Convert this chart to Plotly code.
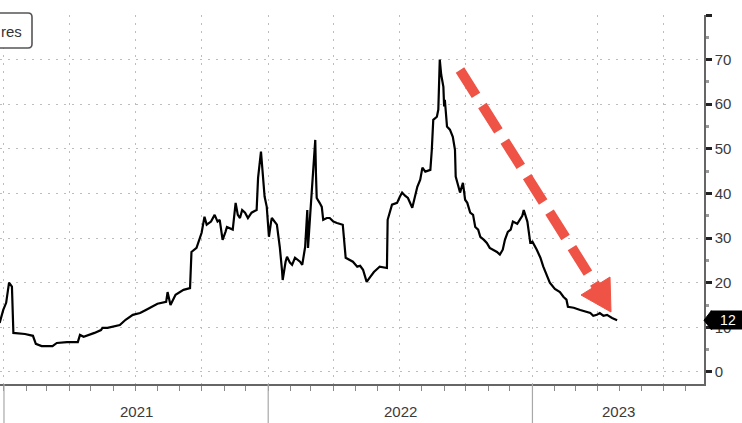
import plotly.graph_objects as go
import pandas as pd

# ---- data ----
dates = [
    "2020-12-26", "2020-12-31", "2021-01-04", "2021-01-08", "2021-01-12", "2021-01-14",
    "2021-01-30", "2021-02-10", "2021-02-14", "2021-02-22", "2021-03-09", "2021-03-15",
    "2021-03-29", "2021-04-13", "2021-04-16", "2021-04-21", "2021-05-06", "2021-05-15",
    "2021-05-17", "2021-05-24", "2021-06-10", "2021-06-18", "2021-06-28", "2021-07-08",
    "2021-07-16", "2021-07-24", "2021-08-01", "2021-08-13", "2021-08-15", "2021-08-19",
    "2021-08-26", "2021-09-06", "2021-09-15", "2021-09-17", "2021-09-24", "2021-10-01",
    "2021-10-05", "2021-10-08", "2021-10-14", "2021-10-19", "2021-10-23", "2021-10-26",
    "2021-10-30", "2021-11-03", "2021-11-05", "2021-11-13", "2021-11-17", "2021-11-20",
    "2021-11-23", "2021-11-26", "2021-11-30", "2021-12-04", "2021-12-09", "2021-12-16",
    "2021-12-18", "2021-12-22", "2021-12-25", "2021-12-26", "2021-12-27", "2021-12-30",
    "2022-01-02", "2022-01-05", "2022-01-06", "2022-01-13", "2022-01-17", "2022-01-20",
    "2022-01-21", "2022-01-25", "2022-01-27", "2022-01-31", "2022-02-03", "2022-02-07",
    "2022-02-14", "2022-02-17", "2022-02-21", "2022-02-24", "2022-02-25", "2022-02-28",
    "2022-03-03", "2022-03-04", "2022-03-07", "2022-03-08", "2022-03-09", "2022-03-13",
    "2022-03-16", "2022-03-18", "2022-03-23", "2022-03-27", "2022-04-01", "2022-04-06",
    "2022-04-14", "2022-04-18", "2022-04-24", "2022-04-28", "2022-05-04", "2022-05-08",
    "2022-05-12", "2022-05-17", "2022-05-22", "2022-05-27", "2022-06-02", "2022-06-04",
    "2022-06-14", "2022-06-15", "2022-06-21", "2022-06-28", "2022-07-02", "2022-07-05",
    "2022-07-09", "2022-07-13", "2022-07-19", "2022-07-23", "2022-07-26", "2022-07-30",
    "2022-08-02", "2022-08-06", "2022-08-13", "2022-08-15", "2022-08-17", "2022-08-22",
    "2022-08-24", "2022-08-26", "2022-08-28", "2022-08-31", "2022-09-01", "2022-09-02",
    "2022-09-05", "2022-09-09", "2022-09-13", "2022-09-16", "2022-09-17", "2022-09-20",
    "2022-09-23", "2022-09-27", "2022-09-30", "2022-10-03", "2022-10-07", "2022-10-11",
    "2022-10-14", "2022-10-18", "2022-10-21", "2022-10-26", "2022-10-30", "2022-11-03",
    "2022-11-08", "2022-11-13", "2022-11-17", "2022-11-21", "2022-11-24", "2022-11-28",
    "2022-12-02", "2022-12-05", "2022-12-11", "2022-12-15", "2022-12-18", "2022-12-20",
    "2022-12-25", "2022-12-29", "2023-01-01", "2023-01-07", "2023-01-12", "2023-01-16",
    "2023-01-20", "2023-01-25", "2023-02-01", "2023-02-08", "2023-02-13", "2023-02-17",
    "2023-02-19", "2023-02-27", "2023-03-08", "2023-03-15", "2023-03-22", "2023-03-26",
    "2023-03-31", "2023-04-04", "2023-04-09", "2023-04-14", "2023-04-21", "2023-04-28",
]
values = [
    11.0, 13.9, 15.5, 20.0, 19.1, 8.75,
    8.5, 8.1, 6.3, 5.8, 5.8, 6.5,
    6.7, 6.7, 8.3, 7.9, 8.75, 9.4,
    9.9, 9.9, 10.5, 11.7, 12.8, 13.2,
    13.9, 14.6, 15.3, 15.7, 17.9, 15.0,
    17.3, 18.4, 18.8, 26.9, 27.8, 31.2,
    34.8, 33.0, 33.7, 35.2, 33.7, 34.1,
    29.6, 31.4, 32.5, 31.9, 37.9, 35.2,
    34.5, 36.3, 35.7, 34.5, 35.7, 36.3,
    43.5, 49.4, 43.8, 40.8, 39.3, 37.0,
    30.3, 33.7, 34.5, 33.0, 28.0, 22.9,
    20.6, 24.7, 25.8, 24.5, 24.0, 25.6,
    24.7, 24.0, 28.0, 36.3, 27.8, 35.2,
    43.5, 44.9, 52.0, 44.2, 39.0, 37.9,
    37.0, 34.1, 34.5, 34.5, 33.7, 33.4,
    33.0, 25.6, 25.1, 24.7, 23.6, 23.8,
    22.9, 20.2, 21.3, 22.4, 23.3, 23.6,
    23.3, 34.1, 37.5, 37.9, 39.3, 40.2,
    39.5, 39.0, 36.8, 39.7, 41.5, 43.1,
    45.8, 44.9, 45.3, 49.8, 56.5, 57.2,
    58.8, 70.0, 66.6, 63.9, 59.5, 61.0,
    55.0, 54.3, 52.7, 49.8, 43.8, 42.0,
    40.2, 42.4, 38.6, 37.9, 35.7, 35.2,
    32.5, 31.9, 30.3, 29.6, 28.9, 27.8,
    27.4, 26.9, 26.3, 27.4, 29.6, 31.4,
    31.9, 33.7, 33.2, 34.1, 35.0, 36.3,
    33.7, 29.0, 29.2, 27.4, 25.6, 23.6,
    21.8, 20.0, 18.6, 17.9, 16.8, 16.2,
    14.6, 14.4, 13.9, 13.5, 13.2, 12.6,
    12.8, 13.2, 12.6, 12.8, 12.1, 11.6,
]
y_ticks = [0, 10, 20, 30, 40, 50, 60, 70, 80]
y_labels = ["0", "10", "20", "30", "40", "50", "60", "70", ""]
years = ["2021", "2022", "2023"]
year_starts = ["2021-01-01", "2022-01-01", "2023-01-01"]
legend_text = "res"
last_label = "12"

# ---- layout geometry ----
W, H = 742, 423
ML, MR, MT, MB = 0, 38, 15, 39
PW, PH = W - ML - MR, H - MT - MB
x_range = [pd.Timestamp("2020-12-26 12:00"), pd.Timestamp("2023-08-26")]
y_range = [-2.7, 80]
FONT = "Liberation Sans"


def xp(px):
    return (px - ML) / PW


def yp(py):
    return (H - MB - py) / PH


def date_to_paper(d):
    t = pd.Timestamp(d)
    return (t - x_range[0]) / (x_range[1] - x_range[0])


def val_to_paper(v):
    return (v - y_range[0]) / (y_range[1] - y_range[0])


fig = go.Figure()
fig.add_trace(go.Scatter(
    x=pd.to_datetime(dates), y=values, mode="lines",
    line=dict(color="#000000", width=2.2), showlegend=False, hoverinfo="skip",
))

shapes = []
annotations = []

# year separators below the axis and year labels
for i, ys in enumerate(year_starts):
    p = date_to_paper(ys)
    shapes.append(dict(type="line", xref="paper", yref="paper", x0=p, x1=p,
                       y0=0, y1=yp(H), line=dict(color="#a8a8a8", width=1.2)))
for i, yr in enumerate(years):
    a = max(date_to_paper(year_starts[i]), 0)
    b = date_to_paper(year_starts[i + 1]) if i + 1 < len(year_starts) else 1.0
    annotations.append(dict(text=yr, xref="paper", yref="paper", x=(a + b) / 2,
                            y=yp(411), xanchor="center", yanchor="middle", showarrow=False,
                            font=dict(size=15, color="#3a3a3a", family=FONT)))

# legend box (cropped at left edge)
bx0, bx1, by0, by1, r = xp(-20), xp(32), yp(13), yp(48), 4
shapes.append(dict(
    type="path", xref="paper", yref="paper",
    path=(f"M {bx0},{by0} L {xp(32 - r)},{by0} Q {bx1},{by0} {bx1},{yp(13 + r)} "
          f"L {bx1},{yp(48 - r)} Q {bx1},{by1} {xp(32 - r)},{by1} L {bx0},{by1}"),
    line=dict(color="#555", width=1.6), fillcolor="rgba(255,255,255,1)",
))
annotations.append(dict(text=legend_text, xref="paper", yref="paper", x=xp(-1), y=yp(31),
                        xanchor="left", yanchor="middle", showarrow=False,
                        font=dict(size=15, color="#333", family=FONT)))

# red dashed arrow
red = "#ef5345"
shapes.append(dict(type="line", xref="paper", yref="paper",
                   x0=xp(460), y0=yp(70), x1=xp(598), y1=yp(289),
                   line=dict(color=red, width=10, dash="30px,12px")))
shapes.append(dict(type="path", xref="paper", yref="paper",
                   path=f"M {xp(611)},{yp(312)} L {xp(581)},{yp(295)} L {xp(610)},{yp(277)} Z",
                   fillcolor=red, line=dict(color=red, width=1)))

# last value label (box covers the hidden tick label like the reference)
lv = val_to_paper(values[-1])
ly = (1 - lv) * PH + MT  # pixel y
shapes.append(dict(type="path", xref="paper", yref="paper",
                   path=(f"M {xp(704)},{yp(ly)} L {xp(711)},{yp(ly - 9)} L {xp(712)},{yp(ly - 9)} "
                         f"L {xp(712)},{yp(ly + 9)} L {xp(711)},{yp(ly + 9)} Z"),
                   fillcolor="#000", line=dict(color="#000", width=1)))
annotations.append(dict(text=last_label, xref="paper", yref="paper", x=xp(710), y=yp(ly),
                        xanchor="left", yanchor="middle", showarrow=False,
                        width=34, height=18, align="center", bgcolor="#000", borderpad=0,
                        font=dict(size=14, color="#fff", family=FONT)))

fig.update_layout(
    width=W, height=H, margin=dict(l=ML, r=MR, t=MT, b=MB, autoexpand=False),
    paper_bgcolor="white", plot_bgcolor="white",
    shapes=shapes, annotations=annotations, showlegend=False,
    xaxis=dict(
        type="date", range=x_range, tick0="2021-01-01", dtick="M3", automargin=False,
        showticklabels=False, ticks="outside", ticklen=5, tickcolor="#888", tickwidth=1,
        showgrid=True, gridcolor="#bdbdbd", griddash="2px,6px", gridwidth=1,
        minor=dict(dtick="M1", tick0="2021-01-01", ticks="outside", ticklen=5,
                   tickcolor="#888", showgrid=False),
        showline=True, linecolor="#666", linewidth=1.5, zeroline=False,
    ),
    yaxis=dict(
        side="right", range=y_range, tickmode="array", tickvals=y_ticks, ticktext=y_labels,
        automargin=False,
        ticks="outside", ticklen=6, tickwidth=2.5, tickcolor="#222",
        showgrid=True, gridcolor="#bdbdbd", griddash="2px,6px", gridwidth=1,
        minor=dict(dtick=5, tick0=0, ticks="outside", ticklen=3, tickcolor="#999", showgrid=False),
        showline=True, linecolor="#666", linewidth=1.5, zeroline=False,
        tickfont=dict(size=15, color="#3a3a3a", family=FONT),
    ),
)

fig.write_html(
    "out.html",
    config={"displayModeBar": False},
    post_script="document.body.style.margin='0';document.body.style.padding='0';",
)
